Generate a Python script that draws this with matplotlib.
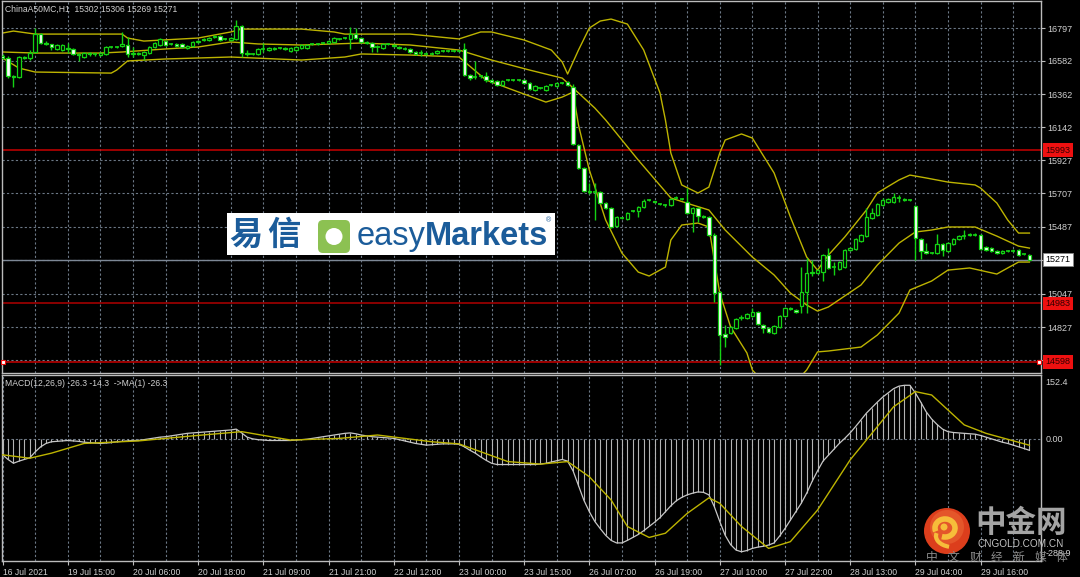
import matplotlib
matplotlib.use('Agg')
import matplotlib.pyplot as plt
import matplotlib.transforms as mtransforms
from matplotlib.patches import Rectangle, Circle, FancyBboxPatch, Arc
import numpy as np

plt.rcParams['font.family'] = ['Liberation Sans', 'Noto Sans CJK SC', 'DejaVu Sans']

# ---- price data (H1 bars, ChinaA50MC) ----
opens = [16610, 16599, 16481, 16474, 16606, 16599, 16639, 16757, 16698, 16690,
         16659, 16652, 16665, 16659, 16626, 16606, 16630, 16626, 16619, 16626,
         16672, 16672, 16678, 16685, 16626, 16630, 16619, 16632, 16672, 16685,
         16711, 16692, 16692, 16692, 16665, 16678, 16705, 16718, 16718, 16738,
         16744, 16725, 16718, 16725, 16810, 16632, 16626, 16626, 16659, 16652,
         16659, 16665, 16665, 16645, 16652, 16665, 16665, 16692, 16692, 16698,
         16698, 16705, 16725, 16731, 16725, 16757, 16731, 16705, 16698, 16672,
         16665, 16692, 16685, 16672, 16665, 16659, 16639, 16632, 16630, 16628,
         16632, 16645, 16645, 16648, 16648, 16659, 16487, 16474, 16478, 16481,
         16454, 16448, 16421, 16454, 16454, 16454, 16454, 16435, 16388, 16402,
         16388, 16421, 16415, 16435, 16441, 16408, 16026, 15875, 15723, 15716,
         15716, 15644, 15611, 15492, 15545, 15539, 15591, 15591, 15618, 15664,
         15655, 15640, 15634, 15631, 15677, 15672, 15650, 15578, 15611, 15558,
         15552, 15433, 15058, 14781, 14787, 14820, 14886, 14886, 14899, 14926,
         14840, 14820, 14787, 14827, 14899, 14952, 14939, 14965, 15058, 15183,
         15183, 15189, 15301, 15222, 15209, 15222, 15334, 15341, 15394, 15426,
         15545, 15565, 15631, 15650, 15650, 15677, 15670, 15664, 15624, 15407,
         15328, 15314, 15314, 15374, 15328, 15374, 15407, 15426, 15433, 15433,
         15433, 15354, 15347, 15328, 15314, 15328, 15328, 15334, 15305, 15302]
highs = [16625, 16612, 16487, 16612, 16612, 16652, 16797, 16764, 16711, 16692,
         16692, 16692, 16698, 16665, 16632, 16639, 16639, 16632, 16639, 16678,
         16678, 16678, 16771, 16738, 16672, 16639, 16645, 16678, 16705, 16731,
         16718, 16698, 16698, 16698, 16685, 16711, 16718, 16731, 16738, 16751,
         16751, 16731, 16738, 16850, 16817, 16652, 16632, 16665, 16698, 16672,
         16672, 16672, 16672, 16672, 16678, 16692, 16692, 16698, 16698, 16705,
         16718, 16738, 16731, 16738, 16804, 16797, 16738, 16711, 16705, 16685,
         16698, 16698, 16692, 16678, 16672, 16665, 16645, 16652, 16639, 16639,
         16652, 16652, 16652, 16655, 16655, 16698, 16494, 16580, 16487, 16507,
         16461, 16454, 16454, 16461, 16461, 16461, 16461, 16441, 16421, 16408,
         16421, 16428, 16441, 16441, 16448, 16428, 16033, 15881, 15776, 15776,
         15723, 15650, 15618, 15558, 15552, 15585, 15598, 15624, 15670, 15670,
         15657, 15644, 15637, 15677, 15690, 15677, 15743, 15618, 15618, 15565,
         15558, 15446, 15064, 14840, 14833, 14886, 14906, 14919, 14952, 14932,
         14847, 14827, 14840, 14906, 14959, 14959, 14946, 15222, 15282, 15268,
         15209, 15308, 15347, 15255, 15262, 15341, 15354, 15413, 15440, 15611,
         15611, 15644, 15677, 15677, 15710, 15697, 15677, 15670, 15631, 15413,
         15380, 15321, 15440, 15380, 15387, 15413, 15433, 15466, 15446, 15446,
         15440, 15360, 15354, 15334, 15334, 15334, 15341, 15341, 15308, 15306]
lows = [16590, 16467, 16408, 16467, 16593, 16586, 16632, 16692, 16685, 16652,
        16652, 16645, 16632, 16619, 16580, 16599, 16612, 16612, 16612, 16619,
        16665, 16665, 16672, 16606, 16606, 16619, 16586, 16626, 16665, 16678,
        16678, 16685, 16672, 16665, 16659, 16672, 16698, 16711, 16711, 16731,
        16711, 16718, 16711, 16718, 16606, 16612, 16619, 16619, 16639, 16645,
        16652, 16659, 16652, 16639, 16645, 16659, 16659, 16685, 16685, 16692,
        16692, 16698, 16718, 16725, 16659, 16725, 16698, 16692, 16639, 16639,
        16659, 16685, 16672, 16659, 16652, 16632, 16619, 16612, 16619, 16619,
        16626, 16639, 16639, 16639, 16639, 16481, 16454, 16461, 16467, 16441,
        16435, 16415, 16415, 16448, 16448, 16448, 16428, 16388, 16382, 16395,
        16382, 16415, 16408, 16428, 16415, 16026, 15868, 15716, 15703, 15532,
        15637, 15604, 15479, 15486, 15539, 15532, 15585, 15552, 15611, 15657,
        15644, 15631, 15618, 15624, 15670, 15664, 15572, 15453, 15519, 15545,
        15426, 14992, 14577, 14695, 14781, 14813, 14873, 14880, 14893, 14840,
        14787, 14787, 14781, 14820, 14893, 14939, 14919, 14919, 14919, 15163,
        15176, 15130, 15209, 15170, 15202, 15216, 15328, 15334, 15387, 15420,
        15539, 15558, 15624, 15644, 15644, 15650, 15657, 15657, 15268, 15275,
        15308, 15308, 15308, 15295, 15321, 15367, 15400, 15407, 15426, 15426,
        15334, 15328, 15321, 15308, 15308, 15321, 15321, 15295, 15301, 15269]
closes = [16600, 16481, 16475, 16606, 16599, 16632, 16757, 16698, 16692, 16672,
          16685, 16685, 16659, 16626, 16619, 16632, 16626, 16626, 16632, 16672,
          16672, 16670, 16692, 16626, 16632, 16626, 16639, 16672, 16698, 16725,
          16685, 16692, 16680, 16672, 16678, 16705, 16711, 16725, 16731, 16744,
          16718, 16725, 16731, 16810, 16632, 16626, 16626, 16659, 16659, 16665,
          16665, 16665, 16660, 16665, 16672, 16685, 16685, 16692, 16692, 16698,
          16711, 16731, 16725, 16731, 16757, 16731, 16705, 16698, 16672, 16670,
          16692, 16692, 16678, 16665, 16662, 16639, 16626, 16630, 16628, 16628,
          16645, 16645, 16645, 16648, 16648, 16487, 16467, 16474, 16481, 16454,
          16441, 16421, 16448, 16454, 16454, 16452, 16435, 16395, 16415, 16402,
          16415, 16421, 16435, 16435, 16421, 16033, 15875, 15723, 15716, 15716,
          15644, 15611, 15486, 15552, 15545, 15578, 15591, 15618, 15657, 15664,
          15650, 15637, 15631, 15670, 15677, 15670, 15578, 15611, 15558, 15552,
          15433, 15051, 14774, 14761, 14827, 14880, 14886, 14913, 14926, 14847,
          14820, 14794, 14833, 14899, 14952, 14946, 14926, 15058, 15183, 15189,
          15202, 15301, 15216, 15222, 15255, 15334, 15347, 15407, 15433, 15552,
          15578, 15637, 15664, 15670, 15683, 15677, 15664, 15664, 15413, 15328,
          15314, 15314, 15374, 15334, 15380, 15407, 15426, 15426, 15440, 15433,
          15341, 15334, 15328, 15314, 15328, 15328, 15328, 15301, 15305, 15271]

# Bollinger bands at these bars
upper_bar = [0, 2, 6, 22, 23, 26, 36, 42, 44, 55, 61, 63, 66, 75, 84, 88, 90, 96, 101, 103,
             104, 106, 108, 110, 112, 115, 118, 121, 122, 123, 125, 128, 130, 132, 133, 136, 138, 142, 145, 148,
             150, 152, 155, 159, 161, 165, 167, 170, 174, 179, 180, 183, 185, 187, 189]
upper_val = [16764, 16777, 16757, 16757, 16731, 16711, 16731, 16771, 16790, 16790,
             16771, 16757, 16757, 16757, 16725, 16771, 16771, 16718, 16652, 16573,
             16494, 16652, 16797, 16843, 16856, 16823, 16652, 16369, 16191, 15973,
             15763, 15710, 15749, 15973, 16059, 16099, 16072, 15842, 15552, 15288,
             15202, 15301, 15420, 15598, 15710, 15796, 15828, 15809, 15782, 15763,
             15743, 15644, 15532, 15446, 15446]
middle_bar = [0, 6, 18, 22, 30, 36, 42, 47, 55, 66, 75, 84, 90, 97, 103, 104, 109, 111, 117, 123,
              127, 130, 133, 138, 142, 145, 148, 150, 152, 158, 161, 165, 168, 171, 174, 179, 183, 187, 189]
middle_val = [16639, 16632, 16632, 16639, 16659, 16672, 16705, 16692, 16685, 16698,
              16685, 16652, 16586, 16520, 16467, 16435, 16270, 16191, 15927, 15677,
              15631, 15598, 15466, 15288, 15170, 15051, 14972, 14932, 14959, 15104,
              15235, 15380, 15453, 15466, 15486, 15486, 15426, 15360, 15347]
lower_bar = [0, 3, 6, 20, 21, 23, 30, 42, 55, 63, 66, 75, 84, 89, 94, 100, 103, 105, 106, 108,
             111, 114, 117, 119, 122, 123, 125, 128, 130, 131, 132, 134, 137, 138, 143, 148, 150, 152, 158, 161,
             165, 167, 171, 174, 178, 183, 185, 187, 189]
lower_val = [16599, 16533, 16507, 16500, 16520, 16580, 16593, 16606, 16586, 16606,
             16626, 16619, 16606, 16454, 16388, 16309, 16342, 16375, 16158, 15861,
             15532, 15314, 15189, 15163, 15222, 15400, 15499, 15512, 15486, 15268,
             15051, 14827, 14656, 14544, 14346, 14544, 14663, 14669, 14695, 14774,
             14919, 15071, 15130, 15202, 15216, 15176, 15216, 15255, 15255]

# MACD(12,26,9): main histogram per bar, signal read at these bars
macd_main = [-37, -48, -57, -52, -48, -44, -30, -18, -10, -6,
             -5, -4, -3, -4, -5, -7, -8, -9, -10, -9,
             -8, -6, -5, -4, -3, -3, -1, 1, 3, 5,
             6, 8, 10, 12, 14, 15, 16, 17, 18, 19,
             20, 21, 22, 24, 15, 5, 1, -1, -2, -3,
             -3, -3, -3, -3, -2, -1, 0, 2, 4, 6,
             8, 10, 12, 14, 15, 13, 10, 8, 6, 5,
             4, 3, 2, -1, -4, -7, -10, -12, -14, -13,
             -12, -11, -11, -11, -12, -18, -26, -33, -42, -50,
             -57, -60, -60, -60, -60, -60, -60, -60, -60, -59,
             -57, -54, -51, -48, -52, -75, -110, -145, -172, -195,
             -212, -228, -240, -246, -246, -240, -233, -226, -217, -207,
             -197, -186, -172, -158, -146, -138, -132, -128, -125, -126,
             -132, -160, -195, -228, -250, -263, -267, -264, -259, -256,
             -254, -251, -246, -230, -212, -192, -172, -152, -128, -100,
             -75, -52, -38, -24, -10, 2, 15, 30, 46, 62,
             75, 88, 100, 110, 120, 126, 128, 128, 110, 88,
             65, 48, 35, 24, 18, 16, 15, 14, 13, 12,
             9, 5, 1, -3, -7, -10, -14, -18, -22, -26.3]
signal_bar = [0, 5, 9, 15, 25, 35, 44, 53, 62, 69, 79, 84, 93, 99, 104, 108, 112, 115, 119, 122,
              126, 130, 132, 136, 141, 145, 150, 156, 160, 164, 168, 171, 177, 181, 189]
signal_val = [-37, -45, -33, -10, -4, 8, 18, -2, 2, 10,
              -6, -11, -53, -59, -53, -89, -144, -207, -233, -223,
              -176, -139, -152, -207, -259, -243, -168, -49, 14, 77,
              113, 105, 34, 14, -14.3]

grid_prices = [16797, 16582, 16362, 16142, 15927, 15707, 15487, 15267, 15047, 14827, 14608]
grid_labels = ['16797', '16582', '16362', '16142', '15927', '15707', '15487', '', '15047', '14827', '']
red_levels = [15993, 14983, 14598]
last_price = 15271

label_bars = [0, 12, 24, 36, 48, 60, 72, 84, 96, 108, 120, 132, 144, 156, 168, 180]
time_labels = ['16 Jul 2021', '19 Jul 15:00', '20 Jul 06:00', '20 Jul 18:00', '21 Jul 09:00',
               '21 Jul 21:00', '22 Jul 12:00', '23 Jul 00:00', '23 Jul 15:00', '26 Jul 07:00',
               '26 Jul 19:00', '27 Jul 10:00', '27 Jul 22:00', '28 Jul 13:00', '29 Jul 04:00',
               '29 Jul 16:00']

W, H = 1080, 577
BG = 'black'
GREEN = '#14d214'
BAND = '#bdb400'
GRID = '#6c7886'
FRAME = '#bcbcbc'
TXT = '#d0d0d0'
FS = 6.2

fig = plt.figure(figsize=(W / 100, H / 100), dpi=100, facecolor=BG)


def px_axes(l, t, r, b):
    a = fig.add_axes([l / W, 1 - b / H, (r - l) / W, (b - t) / H])
    a.set_facecolor(BG)
    for s in a.spines.values():
        s.set_color(FRAME)
        s.set_linewidth(1)
    return a


ax = px_axes(2, 1, 1041, 373)
mx = px_axes(2, 375, 1041, 561)
XL = (-0.11, 191.13)

##### main chart #####
ax.set_xlim(*XL)
ax.set_ylim(14524, 16975)
ax.set_xticks(range(6, 190, 6))
ax.tick_params(axis='x', length=0, labelbottom=False)
ax.yaxis.tick_right()
ax.set_yticks(grid_prices)
ax.set_yticklabels(grid_labels)
ax.tick_params(axis='y', colors=FRAME, labelcolor=TXT, labelsize=FS + 0.3, length=3, width=0.8, pad=1.8)
ax.grid(True, color=GRID, linestyle=(0, (2, 2)), linewidth=0.8)
ax.set_axisbelow(True)

for lv in red_levels:
    ax.axhline(lv, color='#c80000' if lv != 14983 else '#b00000', lw=1.1, zorder=1.5)
ax.axhline(last_price, color='#7d8896', lw=1, zorder=1.5)

ax.plot(upper_bar, upper_val, color=BAND, lw=1, zorder=2)
ax.plot(middle_bar, middle_val, color=BAND, lw=1, zorder=2)
ax.plot(lower_bar, lower_val, color=BAND, lw=1, zorder=2)

bars = np.arange(len(closes))
ax.vlines(bars, lows, highs, color=GREEN, lw=1, zorder=3)
for i in bars:
    o, c = opens[i], closes[i]
    if abs(c - o) < 4:
        ax.hlines(c, i - 0.38, i + 0.38, color=GREEN, lw=1.2, zorder=4)
    else:
        ax.add_patch(Rectangle((i - 0.32, min(o, c)), 0.64, abs(c - o),
                               fc='white' if c < o else 'black', ec=GREEN, lw=0.9, zorder=4))

bt = mtransforms.blended_transform_factory(ax.transAxes, ax.transData)
for lv in red_levels:
    ax.text(1.0042, lv, str(lv), transform=bt, fontsize=FS + 0.3, color='#300000', va='center', ha='left',
            bbox=dict(boxstyle='square,pad=0.25', fc='#ee1010', ec='none'), clip_on=False, zorder=10)
ax.text(1.0042, last_price, str(last_price), transform=bt, fontsize=FS + 0.3, color='black', va='center',
        ha='left', bbox=dict(boxstyle='square,pad=0.25', fc='white', ec='#888888', lw=0.6),
        clip_on=False, zorder=10)
ax.plot([0.0012, 0.9985], [14598, 14598], transform=bt, ls='none', marker='s', ms=3,
        mfc='white', mec='#ee1010', mew=0.8, clip_on=False, zorder=11)

ax.text(0.003, 0.991, 'ChinaA50MC,H1  15302 15306 15269 15271', transform=ax.transAxes,
        fontsize=FS, color=TXT, va='top', ha='left')

##### MACD #####
mx.set_xlim(*XL)
mx.set_ylim(-288.9, 152.4)
mx.set_yticks([])
mx.set_xticks(label_bars)
mx.set_xticklabels(time_labels, ha='left')
mx.set_xticks(range(6, 190, 6), minor=True)
mx.tick_params(axis='x', which='major', colors=FRAME, labelcolor=TXT, labelsize=FS, length=3, width=0.8, pad=2)
mx.tick_params(axis='x', which='minor', length=0)
mx.grid(True, axis='x', which='both', color=GRID, linestyle=(0, (2, 2)), linewidth=0.8)
mx.set_axisbelow(True)
mx.axhline(0, color=GRID, linestyle=(0, (2, 2)), lw=0.8)

mx.vlines(bars, 0, macd_main, color='#b4b4b4', lw=0.8, zorder=2)
mx.plot(bars, macd_main, color='#c8c8c8', lw=0.9, zorder=3)
mx.plot(signal_bar, signal_val, color=BAND, lw=1, zorder=4)

bm = mtransforms.blended_transform_factory(mx.transAxes, mx.transData)
mx.annotate('152.4', xy=(1, 152.4), xycoords=bm, xytext=(3, -2.5), textcoords='offset points',
            fontsize=FS + 0.3, color=TXT, va='top', ha='left', annotation_clip=False)
mx.text(1.0042, 0, '0.00', transform=bm, fontsize=FS + 0.3, color=TXT, va='center', ha='left', clip_on=False)
mx.annotate('-288.9', xy=(1, -288.9), xycoords=bm, xytext=(3, 2), textcoords='offset points',
            fontsize=FS + 0.3, color=TXT, va='bottom', ha='left', annotation_clip=False)
mx.text(0.003, 0.976, 'MACD(12,26,9) -26.3 -14.3  ->MA(1) -26.3', transform=mx.transAxes,
        fontsize=FS, color=TXT, va='top', ha='left')

##### overlay: broker logo and watermark #####
ov = fig.add_axes([0, 0, 1, 1])
ov.set_xlim(0, W)
ov.set_ylim(H, 0)
ov.axis('off')

BLUE = '#1b5c9a'
ov.add_patch(Rectangle((227, 213), 328, 42, fc='white', ec='none'))
ov.text(229, 235, '易', fontsize=24, fontweight='bold', color=BLUE, va='center', ha='left',
        family='Noto Sans CJK SC')
ov.text(267, 235, '信', fontsize=24, fontweight='bold', color=BLUE, va='center', ha='left',
        family='Noto Sans CJK SC')
ov.add_patch(FancyBboxPatch((318, 220), 32, 33, boxstyle='round,pad=0,rounding_size=5',
                            fc='#8cc152', ec='none'))
ov.add_patch(Circle((334, 236.5), 8.5, fc='white', ec='none'))
t_easy = ov.text(357, 245, 'easy', fontsize=23.5, color=BLUE, va='baseline', ha='left')
fig.canvas.draw()
r = fig.canvas.get_renderer()
x_end = ov.transData.inverted().transform(t_easy.get_window_extent(r))[1][0]
t_mk = ov.text(x_end - 1, 245, 'Markets', fontsize=23.5, fontweight='bold', color=BLUE,
               va='baseline', ha='left')
x_end2 = ov.transData.inverted().transform(t_mk.get_window_extent(r))[1][0]
ov.text(x_end2 - 2, 221, '®', fontsize=5, color=BLUE, va='center', ha='left')

ov.add_patch(Circle((947, 531), 23, fc='#dc3e1c', ec='none'))
ov.add_patch(Circle((947, 527), 17, fc='#e4562a', ec='none'))
ov.add_patch(Arc((945, 528), 20, 18, theta1=-200, theta2=110, color='#f6bd3a', lw=4))
ov.add_patch(Circle((944, 527), 3.5, fc='#f6bd3a', ec='none'))
ov.add_patch(Arc((953, 536), 34, 22, theta1=110, theta2=190, color='#f6bd3a', lw=3))
ov.text(1021, 523, '中金网', fontsize=22, fontweight='bold', color='#a4a4a4', va='center', ha='center',
        family='Noto Sans CJK SC')
ov.text(1021, 544, 'CNGOLD.COM.CN', fontsize=7.2, color='#c4c4c4', va='center', ha='center')
for k, ch in enumerate('中文财经新媒体'):
    ov.text(932 + 21.6 * k, 557, ch, fontsize=8.5, color='#8c8c8c', va='center', ha='center',
            family='Noto Sans CJK SC')

fig.savefig('out.png', dpi=100, facecolor=BG)
